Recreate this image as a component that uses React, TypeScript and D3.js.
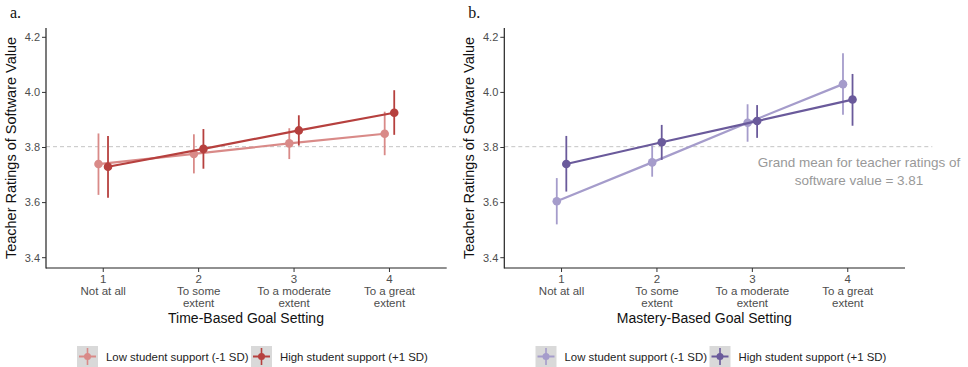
import * as d3 from "d3";

// x categories
const levels = [1, 2, 3, 4];
const levelLabels = [["Not at all"], ["To some", "extent"], ["To a moderate", "extent"], ["To a great", "extent"]];
const yTicks = [3.4, 3.6, 3.8, 4.0, 4.2];
const grandMean = 3.803;

// time-based goal setting
const timeLow = [3.74, 3.777, 3.815, 3.85];
const timeLowLo = [3.628, 3.706, 3.758, 3.772];
const timeLowHi = [3.851, 3.848, 3.87, 3.93];
const timeHigh = [3.73, 3.795, 3.862, 3.926];
const timeHighLo = [3.618, 3.723, 3.807, 3.846];
const timeHighHi = [3.842, 3.867, 3.917, 4.008];

// mastery-based goal setting
const masteryLow = [3.605, 3.746, 3.89, 4.03];
const masteryLowLo = [3.521, 3.694, 3.821, 3.919];
const masteryLowHi = [3.689, 3.807, 3.957, 4.142];
const masteryHigh = [3.74, 3.819, 3.896, 3.974];
const masteryHighLo = [3.64, 3.755, 3.835, 3.879];
const masteryHighHi = [3.842, 3.882, 3.954, 4.067];

const legendLabels = ["Low student support (-1 SD)", "High student support (+1 SD)"];
const FONT = "'Liberation Sans', Arial, sans-serif";

type Series = { mean: number[]; lo: number[]; hi: number[]; color: string; dodge: number };

const Panel = ({ x0, tag, title, series, note, legendX }: any) => {
  const x = d3.scaleLinear().domain([0.4, 4.6]).range([x0, x0 + 400.7]);
  const y = d3.scaleLinear().domain([3.3626, 4.2338]).range([268, 28]);
  const line = d3.line<[number, number]>().x((d) => d[0]).y((d) => d[1]);
  const yT = y(grandMean);

  return (
    <g>
      <text x={x0 - 36} y={18} fontFamily="'Liberation Serif', serif" fontSize={16} fill="#111">{tag}</text>
      {/* y title */}
      <text transform={`translate(${x0 - 30},148) rotate(-90)`} textAnchor="middle" fontSize={14.5} fill="#111">
        Teacher Ratings of Software Value
      </text>
      {/* grand mean */}
      <line x1={x0} x2={x0 + 428} y1={yT} y2={yT} stroke="#c4c4c4" strokeWidth={1} strokeDasharray="4,3" />
      {/* axes */}
      <line x1={x0} x2={x0} y1={28} y2={268.5} stroke="#222" strokeWidth={1.2} />
      <line x1={x0} x2={x0 + 400.7} y1={268} y2={268} stroke="#222" strokeWidth={1.2} />
      {yTicks.map((t) => (
        <g key={t}>
          <line x1={x0 - 4} x2={x0} y1={y(t)} y2={y(t)} stroke="#333" />
          <text x={x0 - 6} y={y(t)} dy="0.35em" textAnchor="end" fontSize={11} fill="#4d4d4d">{t.toFixed(1)}</text>
        </g>
      ))}
      {levels.map((l, i) => (
        <g key={l}>
          <line x1={x(l)} x2={x(l)} y1={268} y2={272} stroke="#333" />
          <text x={x(l)} y={283} textAnchor="middle" fontSize={11.5} fill="#4d4d4d">{l}</text>
          {levelLabels[i].map((s, j) => (
            <text key={j} x={x(l)} y={295 + j * 12} textAnchor="middle" fontSize={11.5} fill="#4d4d4d">{s}</text>
          ))}
        </g>
      ))}
      <text x={x0 + 200} y={323} textAnchor="middle" fontSize={14} fill="#111">{title}</text>
      {/* series */}
      {series.map((s: Series, k: number) => (
        <g key={k}>
          <path
            d={line(levels.map((l, i) => [x(l + s.dodge), y(s.mean[i])]))!}
            fill="none" stroke={s.color} strokeWidth={2.2}
          />
          {levels.map((l, i) => (
            <g key={l}>
              <line x1={x(l + s.dodge)} x2={x(l + s.dodge)} y1={y(s.lo[i])} y2={y(s.hi[i])} stroke={s.color} strokeWidth={1.8} />
              <circle cx={x(l + s.dodge)} cy={y(s.mean[i])} r={4.3} fill={s.color} />
            </g>
          ))}
        </g>
      ))}
      {note && (
        <g fontSize={13.5} fill="#999" textAnchor="middle">
          <text x={859} y={167}>Grand mean for teacher ratings of</text>
          <text x={859} y={185}>software value = 3.81</text>
        </g>
      )}
      {/* legend */}
      {series.map((s: Series, k: number) => {
        const kx = legendX[k];
        return (
          <g key={k}>
            <rect x={kx} y={346} width={21} height={21} fill="#d9d9d9" />
            <line x1={kx + 2} x2={kx + 19} y1={356.5} y2={356.5} stroke={s.color} strokeWidth={2} />
            <line x1={kx + 10.5} x2={kx + 10.5} y1={348} y2={365} stroke={s.color} strokeWidth={1.6} />
            <circle cx={kx + 10.5} cy={356.5} r={3.5} fill={s.color} />
            <text x={kx + 29} y={357} dy="0.35em" fontSize={11.4} fill="#222">{legendLabels[k]}</text>
          </g>
        );
      })}
    </g>
  );
};

export default function App() {
  const timeSeries: Series[] = [
    { mean: timeLow, lo: timeLowLo, hi: timeLowHi, color: "#d98a88", dodge: -0.05 },
    { mean: timeHigh, lo: timeHighLo, hi: timeHighHi, color: "#b6403e", dodge: 0.05 },
  ];
  const masterySeries: Series[] = [
    { mean: masteryLow, lo: masteryLowLo, hi: masteryLowHi, color: "#a59ccb", dodge: -0.05 },
    { mean: masteryHigh, lo: masteryHighLo, hi: masteryHighHi, color: "#6a5a9b", dodge: 0.05 },
  ];
  return (
    <div style={{ position: "absolute", left: 0, top: 0 }}>
      <svg width={968} height={367} fontFamily={FONT} style={{ display: "block", background: "#fff" }}>
        <Panel x0={46} tag="a." title="Time-Based Goal Setting" series={timeSeries} legendX={[77, 251]} />
        <Panel x0={504.3} tag="b." title="Mastery-Based Goal Setting" series={masterySeries} note legendX={[535.5, 709.5]} />
      </svg>
    </div>
  );
}
